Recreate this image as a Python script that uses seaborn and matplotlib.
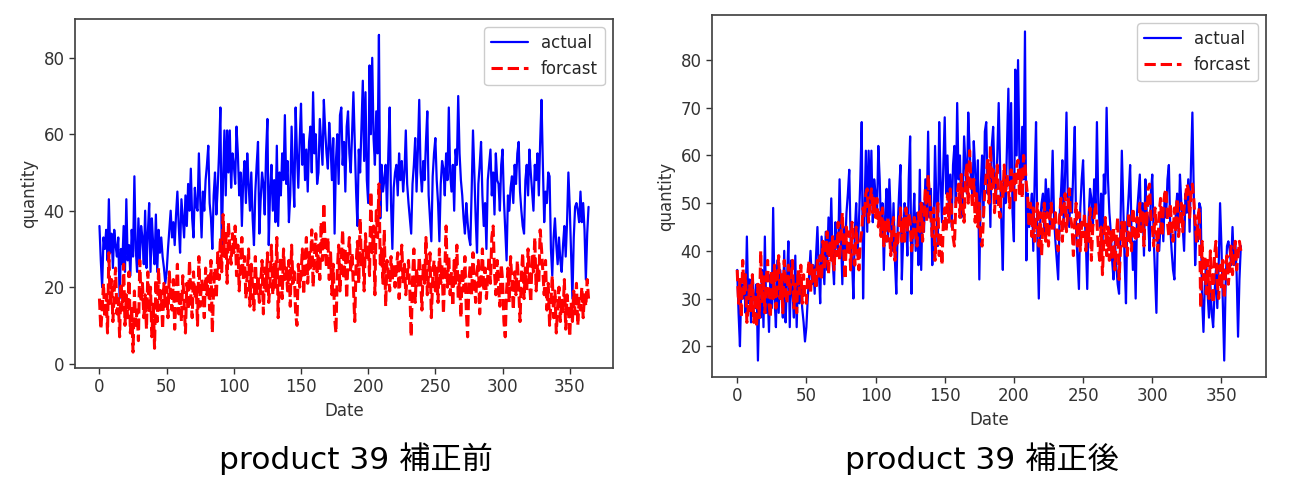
import numpy as np
import pandas as pd
import seaborn as sns
import matplotlib.pyplot as plt

# actual daily quantity, product 39 (same in both panels)
actual = [
    36, 27, 20, 33, 30, 35, 27, 43, 29, 34, 25, 35, 31, 28, 33, 17, 30, 26, 36, 24,
    43, 27, 31, 23, 35, 28, 49, 30, 24, 38, 27, 36, 33, 26, 40, 25, 34, 42, 24, 38,
    31, 26, 39, 24, 35, 29, 33, 28, 25, 21, 24, 30, 35, 40, 33, 37, 31, 39, 45, 36,
    29, 43, 38, 33, 44, 36, 47, 40, 51, 38, 33, 46, 41, 40, 55, 43, 33, 45, 40, 48,
    52, 57, 42, 38, 30, 44, 50, 39, 46, 55, 67, 30, 48, 61, 44, 61, 50, 61, 46, 55,
    52, 47, 62, 55, 44, 50, 36, 48, 53, 42, 55, 47, 40, 50, 38, 31, 45, 52, 58, 34,
    43, 50, 47, 39, 55, 64, 31, 45, 52, 40, 48, 37, 57, 36, 50, 44, 55, 48, 65, 47,
    53, 37, 44, 62, 50, 41, 67, 55, 46, 58, 68, 52, 60, 48, 56, 45, 58, 62, 50, 71,
    55, 60, 47, 50, 64, 58, 52, 69, 61, 55, 51, 63, 57, 48, 59, 34, 53, 60, 47, 65,
    67, 52, 58, 45, 62, 66, 55, 50, 60, 71, 58, 45, 36, 56, 50, 62, 74, 53, 71, 48,
    42, 78, 60, 80, 59, 52, 66, 55, 86, 38, 52, 45, 48, 52, 40, 55, 67, 42, 30, 46,
    50, 52, 44, 55, 48, 53, 45, 50, 61, 47, 42, 38, 34, 47, 52, 59, 45, 56, 69, 50,
    45, 53, 48, 58, 66, 44, 38, 32, 49, 55, 59, 48, 42, 32, 47, 53, 51, 44, 55, 48,
    67, 50, 45, 52, 40, 56, 52, 70, 55, 48, 44, 38, 34, 42, 37, 33, 31, 45, 61, 50,
    38, 29, 47, 52, 58, 44, 36, 42, 30, 48, 52, 56, 44, 50, 39, 55, 48, 47, 40, 52,
    56, 43, 35, 27, 44, 40, 46, 49, 42, 52, 47, 55, 58, 45, 40, 36, 34, 48, 52, 44,
    56, 50, 45, 40, 52, 48, 55, 44, 58, 69, 52, 37, 45, 42, 50, 49, 30, 23, 33, 38,
    31, 26, 33, 27, 24, 31, 36, 28, 37, 50, 41, 29, 17, 33, 41, 42, 40, 37, 45, 37,
    42, 35, 22, 34, 41,
]

# forecast before correction (left panel)
forecast_before = [
    17, 9, 14, 21, 12, 18, 8, 29, 15, 22, 11, 19, 25, 13, 17, 7, 21, 14, 26, 10,
    18, 12, 24, 8, 15, 3, 19, 10, 14, 6, 27, 16, 21, 12, 18, 9, 24, 13, 20, 7,
    16, 4, 22, 11, 25, 14, 19, 9, 21, 15, 20, 12, 24, 17, 14, 22, 9, 18, 26, 13,
    19, 11, 23, 16, 8, 21, 14, 27, 18, 12, 24, 17, 20, 10, 28, 15, 22, 19, 12, 25,
    18, 23, 14, 27, 8, 20, 25, 17, 29, 22, 33, 24, 39, 28, 35, 21, 37, 30, 26, 34,
    29, 36, 23, 31, 19, 27, 33, 22, 28, 17, 24, 30, 15, 26, 20, 14, 28, 18, 23, 16,
    21, 27, 13, 25, 19, 29, 16, 22, 31, 18, 26, 20, 33, 12, 24, 28, 17, 30, 22, 25,
    19, 27, 15, 31, 21, 24, 13, 10, 26, 20, 23, 30, 18, 27, 33, 21, 29, 25, 35, 20,
    28, 34, 24, 31, 22, 37, 27, 42, 30, 25, 33, 22, 29, 18, 26, 12, 8, 24, 31, 19,
    27, 35, 22, 30, 17, 28, 33, 24, 29, 20, 11, 26, 32, 21, 38, 25, 30, 19, 34, 27,
    31, 23, 45, 29, 36, 18, 40, 33, 47, 26, 30, 21, 35, 15, 27, 24, 19, 28, 22, 26,
    20, 25, 29, 17, 24, 31, 21, 26, 18, 23, 27, 19, 7, 22, 30, 16, 25, 20, 28, 23,
    14, 26, 21, 33, 18, 24, 29, 12, 22, 27, 19, 25, 16, 30, 21, 26, 13, 24, 36, 20,
    28, 18, 24, 15, 27, 21, 31, 17, 23, 12, 25, 19, 28, 14, 7, 22, 26, 18, 29, 21,
    16, 24, 27, 13, 22, 30, 19, 25, 17, 23, 28, 21, 33, 36, 24, 18, 27, 20, 15, 26,
    22, 11, 7, 19, 25, 16, 28, 21, 14, 24, 18, 27, 20, 11, 23, 29, 17, 25, 19, 30,
    22, 16, 28, 24, 33, 19, 26, 21, 35, 30, 24, 18, 27, 14, 21, 10, 16, 23, 12, 19,
    8, 15, 20, 11, 17, 13, 22, 9, 18, 14, 7, 16, 11, 19, 13, 21, 10, 17, 14, 20,
    12, 18, 15, 22, 17,
]

# forecast after correction (right panel)
forecast_after = [
    36, 29, 34, 26, 38, 31, 35, 25, 28, 33, 27, 35, 25, 31, 24, 33, 26, 40, 29, 35,
    27, 34, 38, 29, 26, 36, 30, 37, 28, 34, 39, 30, 35, 27, 38, 32, 29, 37, 31, 34,
    38, 28, 33, 27, 36, 31, 37, 29, 35, 30, 29, 35, 38, 31, 37, 33, 36, 32, 38, 34,
    39, 34, 42, 36, 40, 44, 35, 42, 38, 43, 36, 42, 39, 46, 38, 43, 48, 40, 34, 45,
    39, 44, 36, 46, 41, 37, 45, 40, 36, 42, 44, 49, 47, 52, 53, 46, 50, 53, 48, 51,
    47, 51, 45, 48, 43, 49, 41, 46, 42, 47, 44, 39, 45, 47, 38, 44, 41, 46, 49, 42,
    47, 42, 49, 44, 48, 46, 40, 43, 47, 45, 41, 48, 44, 50, 42, 47, 53, 46, 56, 51,
    47, 43, 49, 38, 45, 50, 39, 44, 37, 46, 49, 44, 52, 46, 53, 48, 43, 41, 50, 52,
    54, 47, 56, 50, 46, 55, 58, 50, 61, 54, 49, 55, 46, 52, 45, 50, 42, 41, 47, 53,
    56, 59, 50, 62, 53, 57, 48, 54, 58, 49, 47, 55, 51, 58, 52, 56, 53, 49, 57, 52,
    56, 50, 58, 59, 52, 57, 51, 60, 58, 54, 51, 45, 50, 43, 49, 42, 47, 50, 41, 48,
    39, 46, 50, 42, 48, 41, 47, 50, 44, 46, 48, 43, 40, 47, 51, 42, 48, 52, 44, 49,
    53, 47, 45, 39, 46, 50, 41, 48, 40, 46, 43, 48, 40, 46, 42, 49, 38, 45, 47, 50,
    46, 41, 38, 45, 35, 43, 47, 39, 45, 38, 44, 38, 45, 36, 43, 47, 34, 40, 46, 41,
    46, 41, 39, 48, 43, 40, 49, 44, 42, 47, 43, 50, 44, 48, 41, 50, 45, 53, 54, 47,
    45, 41, 49, 44, 40, 48, 51, 43, 49, 52, 53, 46, 43, 50, 45, 42, 49, 44, 51, 43,
    46, 50, 44, 49, 51, 54, 53, 47, 52, 54, 51, 46, 42, 47, 49, 28, 42, 34, 39, 31,
    38, 30, 40, 34, 29, 39, 42, 33, 30, 37, 32, 38, 30, 36, 39, 33, 37, 41, 35, 39,
    42, 36, 39, 42, 40,
]

captions = ["product 39 補正前", "product 39 補正後"]

sns.set_theme(style="ticks")
plt.rcParams['font.family'] = ['DejaVu Sans', 'Noto Sans CJK JP']

days = np.arange(len(actual))
df = pd.DataFrame({'Date': days, 'actual': actual,
                   'before': forecast_before, 'after': forecast_after})

fig = plt.figure(figsize=(13.16, 5.01), dpi=100)
ax1 = fig.add_axes([75 / 1316, 1 - 368 / 501, 538 / 1316, 349 / 501])
ax2 = fig.add_axes([712 / 1316, 1 - 377 / 501, 554 / 1316, 362 / 501])

# caption centres under each panel (pixels in the reference)
cap_x = [356 / 1316, 982 / 1316]

for ax, col, cap, cx in [(ax1, 'before', captions[0], cap_x[0]),
                         (ax2, 'after', captions[1], cap_x[1])]:
    sns.lineplot(x='Date', y='actual', data=df, ax=ax, color='blue', lw=1.6, label='actual')
    sns.lineplot(x='Date', y=col, data=df, ax=ax, color='red', lw=2.2, linestyle='--', label='forcast')
    ax.set_xlabel('Date', fontsize=12, color='#333333')
    ax.set_ylabel('quantity', fontsize=12, color='#333333')
    ax.tick_params(labelsize=12, colors='#333333', length=4, width=1)
    for s in ax.spines.values():
        s.set_visible(True)
        s.set_color('#444444')
    ax.legend(loc='upper right', fontsize=12, handlelength=2.2, framealpha=1)
    fig.text(cx, 1 - 459 / 501, cap, ha='center', va='center',
             fontsize=22.5, color='black', family=['DejaVu Sans', 'Noto Sans CJK JP'])

ax2.set_yticks([20, 30, 40, 50, 60, 70, 80])

fig.savefig('out.png', dpi=100)
